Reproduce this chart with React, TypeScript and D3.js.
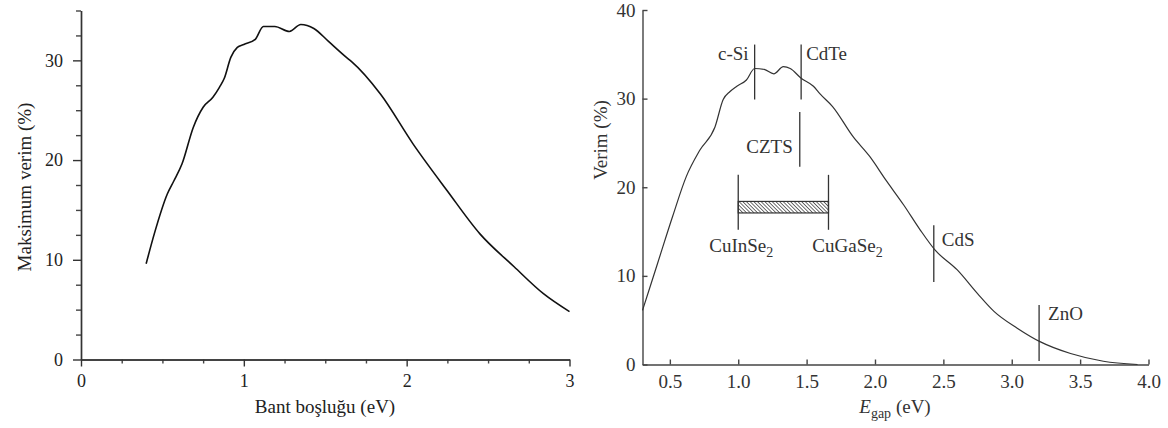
import { useEffect, useRef } from 'react';
import * as d3 from 'd3';

// left panel: maximum efficiency vs band gap
const leftGap = [0.40, 0.45, 0.53, 0.57, 0.62, 0.69, 0.75, 0.81, 0.85, 0.88, 0.92, 0.96, 1.00, 1.07, 1.12, 1.19, 1.28, 1.35, 1.43, 1.52, 1.63, 1.66, 1.84, 2.04, 2.25, 2.45, 2.66, 2.84, 3.00];
const leftEff = [9.6, 12.6, 16.6, 17.9, 19.6, 23.3, 25.3, 26.3, 27.3, 28.2, 30.3, 31.3, 31.6, 32.1, 33.4, 33.4, 32.9, 33.6, 33.2, 31.9, 30.3, 29.9, 26.6, 21.6, 16.9, 12.6, 9.3, 6.6, 4.8];

// right panel: efficiency vs E_gap
const rightGap = [0.30, 0.41, 0.52, 0.62, 0.72, 0.83, 0.89, 0.94, 0.99, 1.06, 1.12, 1.19, 1.26, 1.33, 1.38, 1.46, 1.55, 1.60, 1.69, 1.84, 1.96, 2.08, 2.21, 2.33, 2.44, 2.60, 2.75, 2.87, 3.04, 3.21, 3.43, 3.67, 3.92];
const rightEff = [6.1, 11.4, 16.7, 21.2, 24.2, 26.8, 29.9, 30.8, 31.4, 32.1, 33.4, 33.3, 32.8, 33.6, 33.4, 32.3, 31.4, 30.5, 29.1, 25.7, 23.5, 20.8, 18.0, 15.2, 12.9, 10.7, 8.0, 6.0, 4.1, 2.55, 1.24, 0.37, 0.0];

const leftXTicks = [0, 1, 2, 3];
const leftXMinor = [0.25, 0.5, 0.75, 1.25, 1.5, 1.75, 2.25, 2.5, 2.75];
const leftYTicks = [0, 10, 20, 30];
const leftYMinor = [2.5, 5, 7.5, 12.5, 15, 17.5, 22.5, 25, 27.5, 32.5, 35];

const rightXTicks = [0.5, 1.0, 1.5, 2.0, 2.5, 3.0, 3.5, 4.0];
const rightYTicks = [0, 10, 20, 30, 40];

// material markers (vertical lines)
const markerNames = ['c-Si', 'CdTe', 'CZTS', 'CdS', 'ZnO'];
const markerGap = [1.12, 1.46, 1.45, 2.43, 3.2];
const markerLow = [29.9, 29.9, 22.3, 9.3, 0.4];
const markerHigh = [36.1, 36.1, 28.5, 15.7, 6.7];

// CIGS alloy range
const alloyNames = ['CuInSe', 'CuGaSe'];
const alloyGap = [1.0, 1.66];
const alloyLow = [15.2, 15.2];
const alloyHigh = [21.4, 21.4];
const bandLow = 17.1;
const bandHigh = 18.4;

const serif = 'Liberation Serif, serif';

// label layout: anchor, dx, dy (px from top of marker)
const markerLayout: Record<string, [string, number, number]> = {
  'c-Si': ['end', -6, 15],
  'CdTe': ['start', 5, 15],
  'CZTS': ['end', -7, 41],
  'CdS': ['start', 8, 21],
  'ZnO': ['start', 9, 15],
};
const alloyDx: Record<string, number> = { CuInSe: 3, CuGaSe: 19 };

export default function App() {
  const lx = d3.scaleLinear().domain([0, 3]).range([81, 569.5]);
  const ly = d3.scaleLinear().domain([0, 35]).range([359.5, 10.5]);
  const rx = d3.scaleLinear().domain([0.3, 4.0]).range([642.5, 1148.5]);
  const ry = d3.scaleLinear().domain([0, 40]).range([364.5, 10]);

  const lxMaj = useRef<SVGGElement>(null);
  const lxMin = useRef<SVGGElement>(null);
  const lyMaj = useRef<SVGGElement>(null);
  const lyMin = useRef<SVGGElement>(null);
  const rxAx = useRef<SVGGElement>(null);
  const ryAx = useRef<SVGGElement>(null);

  useEffect(() => {
    const look = (g: any, color: string, size: number) => {
      g.attr('font-family', null).attr('font-size', size).attr('color', color);
      g.select('.domain').attr('stroke-width', 1.4);
      g.selectAll('.tick line').attr('stroke-width', 1.4);
    };
    const noLabel = () => '';
    d3.select(lxMin.current!).call(d3.axisBottom(lx).tickValues(leftXMinor).tickSize(4).tickSizeOuter(0).tickFormat(noLabel)).call(look, '#444', 18);
    d3.select(lxMaj.current!).call(d3.axisBottom(lx).tickValues(leftXTicks).tickSize(7).tickPadding(8).tickSizeOuter(0).tickFormat(d3.format('d'))).call(look, '#333', 18);
    d3.select(lyMin.current!).call(d3.axisLeft(ly).tickValues(leftYMinor).tickSize(5).tickSizeOuter(0).tickFormat(noLabel)).call(look, '#444', 18);
    d3.select(lyMaj.current!).call(d3.axisLeft(ly).tickValues(leftYTicks).tickSize(8).tickPadding(10).tickSizeOuter(0).tickFormat(d3.format('d'))).call(look, '#333', 18);
    d3.select(rxAx.current!).call(d3.axisBottom(rx).tickValues(rightXTicks).tickSize(-5).tickPadding(10).tickSizeOuter(0).tickFormat(d3.format('.1f'))).call(look, '#444', 19);
    d3.select(ryAx.current!).call(d3.axisLeft(ry).tickValues(rightYTicks).tickSize(-5).tickPadding(7).tickSizeOuter(0).tickFormat(d3.format('d'))).call(look, '#444', 19);
    d3.select(lxMaj.current!).selectAll('.tick text').attr('fill', '#222');
    d3.select(lyMaj.current!).selectAll('.tick text').attr('fill', '#222');
    d3.select(rxAx.current!).selectAll('.tick text').attr('fill', '#333');
    d3.select(ryAx.current!).selectAll('.tick text').attr('fill', '#333');
  }, []);

  const leftLine = d3.line<number>()
    .x((d, i) => lx(leftGap[i]))
    .y(d => ly(d))
    .curve(d3.curveMonotoneX);
  const rightLine = d3.line<number>()
    .x((d, i) => rx(rightGap[i]))
    .y(d => ry(d))
    .curve(d3.curveMonotoneX);

  return (
    <svg width={1168} height={428} style={{ position: 'absolute', left: 0, top: 0, background: '#fff', fontFamily: serif }}>
      <defs>
        <pattern id="hatch" patternUnits="userSpaceOnUse" width={2.6} height={6} patternTransform="rotate(-45)">
          <line x1={0} y1={0} x2={0} y2={6} stroke="#222" strokeWidth={1.3} />
        </pattern>
      </defs>

      {/* left panel */}
      <g ref={lxMin} transform="translate(0,359.5)" />
      <g ref={lxMaj} transform="translate(0,359.5)" />
      <g ref={lyMin} transform="translate(81,0)" />
      <g ref={lyMaj} transform="translate(81,0)" />
      <path d={leftLine(leftEff)!} fill="none" stroke="#111" strokeWidth={1.6} />
      <text x={325} y={413} textAnchor="middle" fontSize={19} fill="#222">Bant boşluğu (eV)</text>
      <text transform="translate(31,187) rotate(-90)" textAnchor="middle" fontSize={19} fill="#222">Maksimum verim (%)</text>

      {/* right panel */}
      <g ref={rxAx} transform="translate(0,364.5)" />
      <g ref={ryAx} transform="translate(642.5,0)" />
      <path d={rightLine(rightEff)!} fill="none" stroke="#333" strokeWidth={1.2} />

      {markerNames.map((name, i) => {
        const [anchor, dx, dy] = markerLayout[name];
        return (
          <g key={name}>
            <line x1={rx(markerGap[i])} x2={rx(markerGap[i])} y1={ry(markerHigh[i])} y2={ry(markerLow[i])} stroke="#333" strokeWidth={1.3} />
            <text x={rx(markerGap[i]) + dx} y={ry(markerHigh[i]) + dy} textAnchor={anchor} fontSize={19} fill="#333">{name}</text>
          </g>
        );
      })}

      <rect
        x={rx(alloyGap[0])}
        width={rx(alloyGap[1]) - rx(alloyGap[0])}
        y={ry(bandHigh)}
        height={ry(bandLow) - ry(bandHigh)}
        fill="url(#hatch)"
        stroke="#333"
        strokeWidth={1.2}
      />
      {alloyNames.map((name, i) => (
        <g key={name}>
          <line x1={rx(alloyGap[i])} x2={rx(alloyGap[i])} y1={ry(alloyHigh[i])} y2={ry(alloyLow[i])} stroke="#333" strokeWidth={1.3} />
          <text x={rx(alloyGap[i]) + alloyDx[name]} y={ry(alloyLow[i]) + 22} textAnchor="middle" fontSize={19} fill="#333">
            {name}<tspan fontSize={14} dy={5}>2</tspan>
          </text>
        </g>
      ))}

      <text x={895} y={413} textAnchor="middle" fontSize={19} fill="#333">
        <tspan fontStyle="italic">E</tspan>
        <tspan fontSize={14} dy={5}>gap</tspan>
        <tspan dy={-5}> (eV)</tspan>
      </text>
      <text transform="translate(607,140) rotate(-90)" textAnchor="middle" fontSize={19} fill="#333">Verim (%)</text>
    </svg>
  );
}
